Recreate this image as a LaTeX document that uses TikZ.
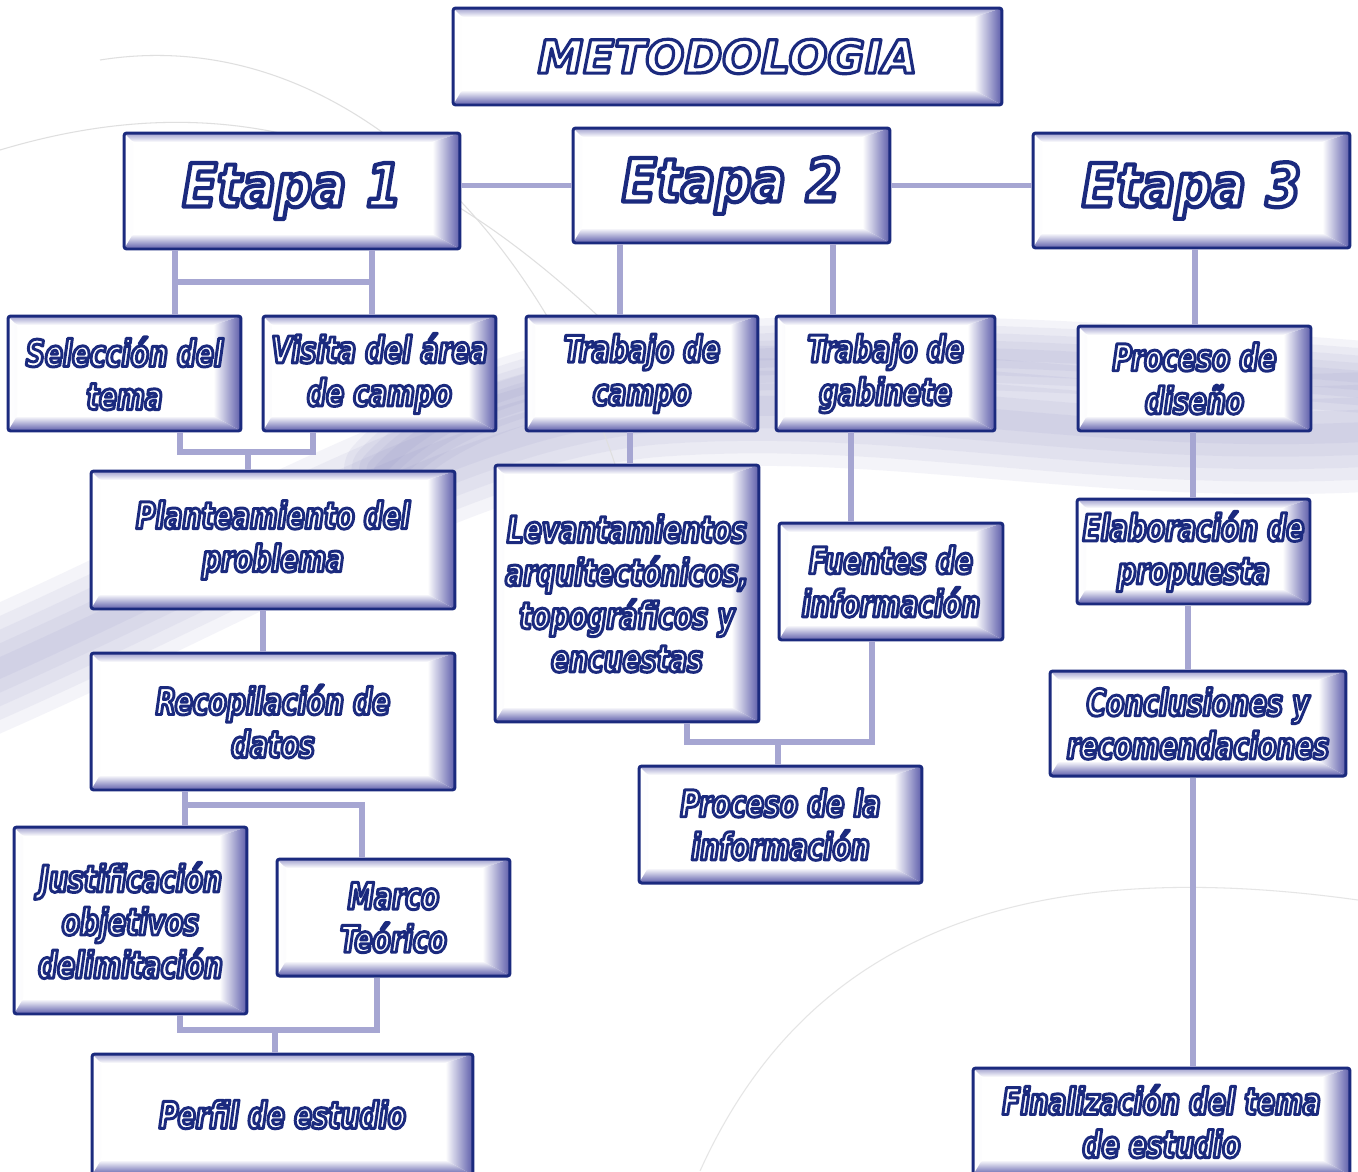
\documentclass[tikz,border=0pt]{standalone}
\usepackage{fontspec}

\newfontfamily\cajafont[FakeStretch=0.8,FakeBold=8]{DejaVu Sans Condensed Bold Oblique}
\newfontfamily\etapafont[FakeStretch=0.85,FakeBold=7]{DejaVu Sans Bold Oblique}
\newfontfamily\metofont[FakeBold=7]{DejaVu Sans Bold Oblique}
\definecolor{borde}{HTML}{1B2A7E}
\definecolor{brillo}{HTML}{5C5CAA}
\definecolor{linea}{HTML}{A6A6D2}
\definecolor{fondo}{HTML}{7C7CB8}
\newcommand{\ol}[1]{{\special{pdf:literal direct 1 j 0.106 0.165 0.494 RG}#1}}

\tikzset{
  caja/.style={draw=borde, line width=1.7pt, fill=white, rounded corners=1.5pt,
    text=white, align=center, inner sep=2pt,
    font=\cajafont\fontsize{21}{24.5}\selectfont,
    path picture={
      \shade[left color=white, right color=brillo!60!white] ([xshift=0.18cm,yshift=-0.18cm]path picture bounding box.north west) -- (path picture bounding box.north west) -- (path picture bounding box.south west) -- ([xshift=0.18cm,yshift=0.3cm]path picture bounding box.south west) -- cycle;
      \shade[bottom color=white, top color=brillo!60!white] ([xshift=0.18cm,yshift=-0.18cm]path picture bounding box.north west) -- (path picture bounding box.north west) -- (path picture bounding box.north east) -- ([xshift=-0.55cm,yshift=-0.18cm]path picture bounding box.north east) -- cycle;
      \shade[top color=white, bottom color=brillo] ([xshift=0.18cm,yshift=0.3cm]path picture bounding box.south west) -- (path picture bounding box.south west) -- (path picture bounding box.south east) -- ([xshift=-0.55cm,yshift=0.3cm]path picture bounding box.south east) -- cycle;
      \shade[left color=white, right color=brillo] ([xshift=-0.55cm,yshift=-0.18cm]path picture bounding box.north east) -- (path picture bounding box.north east) -- (path picture bounding box.south east) -- ([xshift=-0.55cm,yshift=0.3cm]path picture bounding box.south east) -- cycle;
    }},
  etapa/.style={caja, font=\etapafont\fontsize{34}{40}\selectfont},
  enlace/.style={draw=linea, line width=3.4pt},
  remolino/.style={draw=fondo, opacity=0.08, line cap=round},
}

\begin{document}
\begin{tikzpicture}[x=0.02cm, y=-0.02cm]
\useasboundingbox (0,0) rectangle (1358,1171);
\fill[white] (0,0) rectangle (1358,1171);

    \foreach \w in {0.4,0.9,1.4,1.9,2.4} {
      \draw[remolino, line width=\w cm] (-50,690) .. controls (250,560) and (450,430) .. (650,410) .. controls (900,390) and (1100,450) .. (1400,430);
      \draw[remolino, line width=0.6*\w cm] (380,470) .. controls (500,340) and (800,330) .. (1400,380);
    }
    \draw[gray!25, line width=0.6pt] (0,150) .. controls (300,60) and (500,200) .. (700,420);
    \draw[gray!25, line width=0.6pt] (100,60) .. controls (350,20) and (550,250) .. (620,480);
    \draw[gray!20, line width=0.6pt] (700,1171) .. controls (800,950) and (1000,850) .. (1358,900);

    \node[caja, minimum width=10.98cm, minimum height=1.94cm, font=\metofont\fontsize{26}{30}\selectfont] (meto) at (727.5,56.5) {\ol{METODOLOGIA}};

    \node[etapa, minimum width=6.72cm, minimum height=2.32cm] (et1) at (292,191) {\ol{Etapa\,\,1}};
    \node[etapa, minimum width=6.34cm, minimum height=2.30cm] (et2) at (731.5,185.5) {\ol{Etapa\,\,2}};
    \node[etapa, minimum width=6.34cm, minimum height=2.30cm] (et3) at (1191.5,190.5) {\ol{Etapa\,\,3}};

    \node[caja, minimum width=4.66cm, minimum height=2.30cm] (sel) at (124.5,373.5) {\ol{Selección del}\\\ol{tema}};
    \node[caja, minimum width=4.66cm, minimum height=2.30cm] (vis) at (379.5,373.5) {\ol{Visita del área}\\\ol{de campo}};
    \node[caja, minimum width=4.64cm, minimum height=2.30cm] (tcam) at (642,373.5) {\ol{Trabajo de}\\\ol{campo}};
    \node[caja, minimum width=4.38cm, minimum height=2.30cm] (tgab) at (885.5,373.5) {\ol{Trabajo de}\\\ol{gabinete}};
    \node[caja, minimum width=4.66cm, minimum height=2.10cm] (pdis) at (1194.5,378.5) {\ol{Proceso de}\\\ol{diseño}};

    \node[caja, minimum width=7.28cm, minimum height=2.76cm] (plan) at (273,540) {\ol{Planteamiento del}\\\ol{problema}};
    \node[caja, minimum width=5.28cm, minimum height=5.14cm] (lev) at (627,593.5) {\ol{Levantamientos}\\\ol{arquitectónicos,}\\\ol{topográficos y}\\\ol{encuestas}};
    \node[caja, minimum width=4.48cm, minimum height=2.34cm] (fue) at (891,581.5) {\ol{Fuentes de}\\\ol{información}};
    \node[caja, minimum width=4.66cm, minimum height=2.10cm] (elab) at (1193.5,551.5) {\ol{Elaboración de}\\\ol{propuesta}};

    \node[caja, minimum width=7.28cm, minimum height=2.74cm] (reco) at (273,721.5) {\ol{Recopilación de}\\\ol{datos}};
    \node[caja, minimum width=5.92cm, minimum height=2.10cm] (conc) at (1198,723.5) {\ol{Conclusiones y}\\\ol{recomendaciones}};
    \node[caja, minimum width=5.66cm, minimum height=2.34cm] (proc) at (780.5,824.5) {\ol{Proceso de la}\\\ol{información}};

    \node[caja, minimum width=4.66cm, minimum height=3.74cm] (just) at (130.5,920.5) {\ol{Justificación}\\\ol{objetivos}\\\ol{delimitación}};
    \node[caja, minimum width=4.66cm, minimum height=2.34cm] (marco) at (393.5,917.5) {\ol{Marco}\\\ol{Teórico}};

    \node[caja, minimum width=7.62cm, minimum height=2.42cm] (perf) at (282.5,1114.5) {\ol{Perfil de estudio}};
    \node[caja, minimum width=7.54cm, minimum height=2.14cm] (fin) at (1161.5,1121.5) {\ol{Finalización del tema}\\\ol{de estudio}};

    \coordinate (j1a) at (175,282);
    \coordinate (j1b) at (372,282);
    \coordinate (j2a) at (180,452);
    \coordinate (j2b) at (313,452);
    \coordinate (j2c) at (248,452);
    \coordinate (j3) at (263,0);
    \coordinate (j4a) at (185,805);
    \coordinate (j4b) at (362,805);
    \coordinate (j5a) at (180,1030);
    \coordinate (j5b) at (377,1030);
    \coordinate (j5c) at (275,1030);
    \coordinate (k1) at (620,0);
    \coordinate (k2) at (833,0);
    \coordinate (k3) at (630,0);
    \coordinate (k4) at (851,0);
    \coordinate (j6a) at (687,742);
    \coordinate (j6b) at (872,742);
    \coordinate (j6c) at (778,742);
    \coordinate (m1) at (1195,0);
    \coordinate (m2) at (1193,0);
    \coordinate (m3) at (1188,0);

    \draw[enlace] (et2.west -| et1.east) -- (et2.west);
    \draw[enlace] (et2.east) -- (et2.east -| et3.west);

    \draw[enlace] (et1.south -| j1a) -- (sel.north -| j1a);
    \draw[enlace] (et1.south -| j1b) -- (vis.north -| j1b);
    \draw[enlace] (j1a) -- (j1b);
    \draw[enlace] (sel.south -| j2a) -- (j2a) -- (j2b) -- (vis.south -| j2b);
    \draw[enlace] (j2c) -- (plan.north -| j2c);
    \draw[enlace] (plan.south -| j3) -- (reco.north -| j3);
    \draw[enlace] (reco.south -| j4a) -- (just.north -| j4a);
    \draw[enlace] (j4a) -- (j4b) -- (marco.north -| j4b);
    \draw[enlace] (just.south -| j5a) -- (j5a) -- (j5b) -- (marco.south -| j5b);
    \draw[enlace] (j5c) -- (perf.north -| j5c);

    \draw[enlace] (et2.south -| k1) -- (tcam.north -| k1);
    \draw[enlace] (et2.south -| k2) -- (tgab.north -| k2);
    \draw[enlace] (tcam.south -| k3) -- (lev.north -| k3);
    \draw[enlace] (tgab.south -| k4) -- (fue.north -| k4);
    \draw[enlace] (lev.south -| j6a) -- (j6a) -- (j6b) -- (fue.south -| j6b);
    \draw[enlace] (j6c) -- (proc.north -| j6c);

    \draw[enlace] (et3.south -| m1) -- (pdis.north -| m1);
    \draw[enlace] (pdis.south -| m2) -- (elab.north -| m2);
    \draw[enlace] (elab.south -| m3) -- (conc.north -| m3);
    \draw[enlace] (conc.south -| m2) -- (fin.north -| m2);
\end{tikzpicture}
\end{document}
